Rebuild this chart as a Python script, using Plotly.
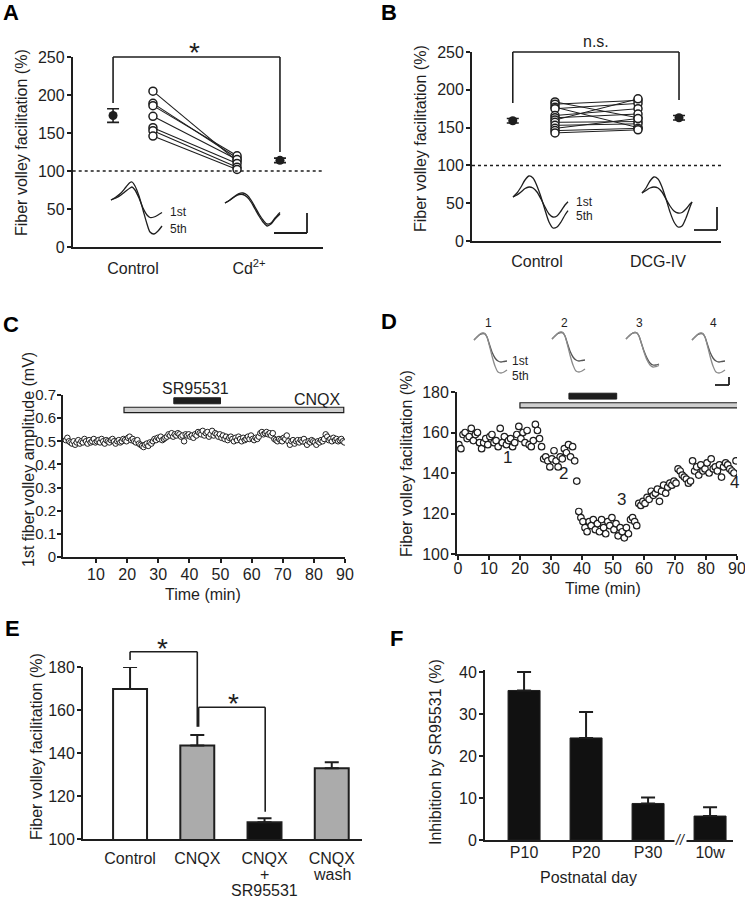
import plotly.graph_objects as go

W, H = 745, 899
FONT = "Liberation Sans, Arial, Helvetica, sans-serif"
INK = "#1e1e1e"

# ---------------- data ----------------
# Panel A
a_ctrl = [205, 189, 186, 172, 157, 153, 146]
a_cd = [113, 117, 120, 115, 110, 105, 102]
a_mean = [173, 114]
a_sem = [9, 3]
a_labels = ["Control", "Cd<sup>2+</sup>"]

# Panel B
b_ctrl = [184, 181, 177, 175, 166, 163, 160, 157, 153, 149, 146, 143]
b_dcg = [163, 186, 150, 182, 175, 168, 188, 158, 155, 162, 149, 147]
b_mean = [159, 163]
b_sem = [3, 3]
b_labels = ["Control", "DCG-IV"]

# Panel C : 1st fiber volley amplitude (uV), one sample every 30 s
c_amp_uV = [
    505, 515, 500, 495, 490, 500, 485, 495, 505, 490, 500, 495, 510, 500, 490, 505, 495, 500, 510, 495,
    500, 505, 495, 510, 500, 490, 505, 500, 495, 505, 510, 500, 490, 500, 505, 495, 500, 510, 505, 500,
    515, 520, 505, 510, 500, 495, 505, 490, 485, 480, 475, 485, 490, 480, 495, 490, 500, 510, 505, 515,
    510, 520, 505, 510, 515, 520, 530, 525, 535, 520, 530, 525, 535, 530, 520, 525, 500, 530, 525, 530,
    520, 525, 515, 530, 525, 540, 535, 530, 545, 525, 535, 540, 520, 530, 545, 525, 535, 530, 520, 530,
    515, 525, 510, 520, 505, 515, 520, 510, 500, 515, 505, 520, 510, 500, 515, 505, 510, 520, 510, 525,
    510, 505, 515, 510, 520, 535, 540, 530, 535, 540, 530, 535, 525, 535, 510, 505, 500, 510, 505, 500,
    515, 510, 525, 500, 485, 500, 505, 490, 500, 505, 495, 505, 500, 510, 495, 485, 500, 495, 505, 500,
    495, 485, 500, 495, 505, 500, 510, 530, 520, 505, 510, 500, 515, 505, 510, 500, 505, 510, 500, 495,
]
c_t_start, c_t_step = 0.3, 0.5
c_cnqx = [19, 89.6]
c_sr = [35, 50]

# Panel D : fiber volley facilitation (%), one sample every 40 s
d_fac = [
    154, 152, 159, 160, 157, 158, 162, 156, 159, 160, 155, 152, 155, 157, 154,
    158, 159, 155, 156, 153, 162, 155, 158, 154, 156, 157, 153, 155, 159, 163,
    157, 160, 155, 161, 154, 153, 156, 164, 161, 157, 153, 147, 148, 146, 143,
    147, 151, 146, 143, 148, 147, 152, 150, 154, 148, 153,
    146, 136, 121, 118, 116,
    113, 111, 116, 114, 117, 112, 115, 111, 117, 113, 110, 116, 114, 118, 112, 115, 109, 113, 111, 108, 113, 110,
    117, 118, 116, 114,
    125, 124, 126, 125,
    128, 127, 131, 129, 130, 132, 126, 131, 134, 130, 133, 135, 134, 136, 135,
    142, 141, 139, 138, 137, 135, 136,
    146, 141, 143, 139, 144, 141, 142, 145, 140, 147, 142, 143, 141, 144, 138, 143, 145, 144, 142, 141, 140, 146,
]
d_t_start, d_t_step = 0.3, 0.667
d_cnqx = [20, 90.3]
d_sr = [35.8, 51.2]
d_marks = ["1", "2", "3", "4"]
d_mark_t = [16.1, 34.0, 52.8, 89.1]
d_mark_v = [147.9, 139.9, 126.7, 135.2]

# Panel E
e_labels = ["Control", "CNQX", "CNQX", "CNQX"]
e_sublabels = [[], [], ["+", "SR95531"], ["wash"]]
e_values = [169.8, 143.5, 107.8, 132.9]
e_err = [10.2, 4.9, 1.8, 2.8]
e_colors = ["white", "#ababab", "#111111", "#ababab"]

# Panel F
f_labels = ["P10", "P20", "P30", "10w"]
f_values = [35.6, 24.3, 8.7, 5.7]
f_err = [4.4, 6.2, 1.4, 2.1]

# Example fiber-volley traces (sample index, amplitude in display units)
wa_t = [0, 5, 10, 15, 19, 21, 24, 28, 32, 36, 39, 43, 47, 51]
wa_1st = [0, 2, 5, 9, 12, 13, 10, 2, -8, -15, -17.5, -17, -15, -12.5]
wa_5th = [0, 3, 7, 13, 17.5, 18, 14, 4, -10, -24, -32, -34, -31, -26]
wcd_t = [0, 5, 10, 14, 18, 22, 26, 30, 34, 38, 42, 46, 50, 55]
wcd_1st = [0, 3, 7, 9.5, 10, 8, 3, -4, -11, -17, -21, -20, -15, -9.5]
wcd_5th = [0, 3, 6.5, 8.5, 8.5, 6, 1, -6, -13, -19, -23, -21, -16, -11]
wb_t = [0, 4, 8, 12, 16, 20, 24, 28, 32, 36, 40, 44, 48, 52, 55]
wb_1st = [0, 2, 5, 8.5, 10, 9, 5, -2, -10, -17, -20, -19, -14, -8, -4.7]
wb_5th = [0, 4, 10, 17, 21, 19, 11, 0, -13, -25, -31, -30, -25, -18, -13.7]
wdcg_t = [0, 4, 8, 12, 16, 20, 24, 28, 32, 36, 40, 44, 48, 50]
wdcg_1st = [0, 2.5, 5, 6, 5, 1, -6, -13, -18, -20, -19.5, -16, -11, -9]
wdcg_5th = [0, 5, 12, 16, 14, 6, -6, -19, -29, -34, -33, -25, -14, -9]
wd_t = [0, 3, 6, 9, 11, 13, 15, 18, 21, 24, 27, 30, 33]
wd_1st = [0, 3, 5.5, 6.5, 6, 3, -3, -12, -18, -21, -22, -21.5, -21]
wd_5th = [0, 3, 6, 7, 6.5, 3, -4, -16, -26, -32, -33, -32, -30]
wd3_1st = [0, 3, 5.5, 6.5, 6, 3, -3, -12, -19, -24, -26, -26, -25]
wd3_5th = [0, 3, 5.5, 6.5, 6, 3, -3, -13, -21, -26, -28, -27.5, -26.5]

# ---------------- helpers ----------------
def px(xp):
    return xp / W


def py(yp):
    return 1 - yp / H


fig = go.Figure()
layout_axes = {}
shapes = []
annotations = []

common = dict(showline=True, linecolor=INK, linewidth=1.8, ticks="outside", ticklen=4,
              tickwidth=1.6, tickcolor=INK, showgrid=False, zeroline=False, automargin=False,
              ticklabeloverflow="allow",
              tickfont=dict(family=FONT, size=16, color=INK), fixedrange=True)

RANGES = {}


def main_axes(i, xdom, ydom, xr, yr, xkw=None, ykw=None):
    xk = "xaxis" if i == 1 else f"xaxis{i}"
    yk = "yaxis" if i == 1 else f"yaxis{i}"
    xa = dict(common, domain=xdom, range=xr, anchor="y" if i == 1 else f"y{i}")
    ya = dict(common, domain=ydom, range=yr, anchor="x" if i == 1 else f"x{i}",
              ticklabelstandoff=-1)
    xa.update(xkw or {})
    ya.update(ykw or {})
    layout_axes[xk] = xa
    layout_axes[yk] = ya
    RANGES[i] = (xr, yr)


def xr_(i):
    return "x" if i == 1 else f"x{i}"


def yr_(i):
    return "y" if i == 1 else f"y{i}"


def xd(i, v):
    r = RANGES[i][0]
    return (v - r[0]) / (r[1] - r[0])


def yd(i, v):
    r = RANGES[i][1]
    return (v - r[0]) / (r[1] - r[0])


def bracket(i, x0, x1, ytop, yl, yr, width=1.6):
    xref, yref = xr_(i) + " domain", yr_(i) + " domain"
    line = dict(color=INK, width=width)
    shapes.append(dict(type="line", xref=xref, yref=yref, x0=xd(i, x0), x1=xd(i, x1),
                       y0=yd(i, ytop), y1=yd(i, ytop), line=line))
    shapes.append(dict(type="line", xref=xref, yref=yref, x0=xd(i, x0), x1=xd(i, x0),
                       y0=yd(i, yl), y1=yd(i, ytop), line=line))
    shapes.append(dict(type="line", xref=xref, yref=yref, x0=xd(i, x1), x1=xd(i, x1),
                       y0=yd(i, yr), y1=yd(i, ytop), line=line))


def label(i, text, x, y, size=16, yshift=0, xanchor="center"):
    annotations.append(dict(text=text, x=x, y=yd(i, y), xref=xr_(i), yref=yr_(i) + " domain",
                            showarrow=False, font=dict(family=FONT, size=size, color=INK),
                            yshift=yshift, xanchor=xanchor, yanchor="middle"))


def paper_text(text, xp, yp, size=16, angle=0, bold=False, color=INK, xanchor="center"):
    t = f"<b>{text}</b>" if bold else text
    annotations.append(dict(text=t, x=px(xp), y=py(yp), xref="paper", yref="paper",
                            showarrow=False, textangle=angle, xanchor=xanchor, yanchor="middle",
                            font=dict(family=FONT, size=size, color=color)))


def inset(i, ox, oy, t, series, colors, width=1.3):
    pad = 3
    vmin = min(min(s) for s in series)
    vmax = max(max(s) for s in series)
    xk, yk = f"xaxis{i}", f"yaxis{i}"
    layout_axes[xk] = dict(domain=[px(ox + min(t) - pad), px(ox + max(t) + pad)],
                           range=[min(t) - pad, max(t) + pad], visible=False,
                           anchor=f"y{i}", fixedrange=True, automargin=False)
    layout_axes[yk] = dict(domain=[py(oy - vmin + pad), py(oy - vmax - pad)],
                           range=[vmin - pad, vmax + pad], visible=False,
                           anchor=f"x{i}", fixedrange=True, automargin=False)
    for s, c in zip(series, colors):
        fig.add_trace(go.Scatter(x=t, y=s, mode="lines", xaxis=f"x{i}", yaxis=f"y{i}",
                                 line=dict(color=c, width=width, shape="spline", smoothing=0.8),
                                 hoverinfo="skip"))


def scale_bar(xh0, xh1, yh, yv0):
    line = dict(color=INK, width=1.8)
    shapes.append(dict(type="line", xref="paper", yref="paper", x0=px(xh0), x1=px(xh1),
                       y0=py(yh), y1=py(yh), line=line))
    shapes.append(dict(type="line", xref="paper", yref="paper", x0=px(xh1), x1=px(xh1),
                       y0=py(yv0), y1=py(yh), line=line))


# ---------------- Panel A ----------------
main_axes(1, [px(72.7), px(323)], [py(247), py(57)], [0.48, 2.638], [0, 250],
          xkw=dict(tickvals=[1, 2], ticktext=a_labels, ticks="", ticklabelstandoff=6),
          ykw=dict(tickvals=[0, 50, 100, 150, 200, 250]))
A_MEAN_X = [1 - 0.172, 2 + 0.267]
A_PAIR_X = [1 + 0.172, 2 - 0.103]
shapes.append(dict(type="line", xref="x domain", yref="y", x0=0, x1=1, y0=100, y1=100,
                   line=dict(color=INK, width=1.5, dash="3px,3px")))
for c, d in zip(a_ctrl, a_cd):
    fig.add_trace(go.Scatter(x=A_PAIR_X, y=[c, d], mode="lines+markers", xaxis="x", yaxis="y",
                             line=dict(color=INK, width=1.1),
                             marker=dict(symbol="circle", size=8, color="white",
                                         line=dict(color=INK, width=1.5)), hoverinfo="skip"))
fig.add_trace(go.Scatter(x=A_MEAN_X, y=a_mean, mode="markers", xaxis="x", yaxis="y",
                         marker=dict(symbol="circle", size=9, color=INK),
                         error_y=dict(type="data", array=a_sem, color=INK, thickness=1.6, width=6),
                         hoverinfo="skip"))
bracket(1, A_MEAN_X[0], A_MEAN_X[1], 250, 189.5, 125)
label(1, "*", 1.53, 263, size=28, yshift=-5)
inset(7, 111, 200, wa_t, [wa_1st, wa_5th], [INK, INK])
inset(8, 225, 203, wcd_t, [wcd_1st, wcd_5th], [INK, INK])
paper_text("1st", 168, 212, size=12, xanchor="left")
paper_text("5th", 168, 229, size=12, xanchor="left")
scale_bar(274, 307, 233, 213)

# ---------------- Panel B ----------------
main_axes(2, [px(472), px(721)], [py(241), py(52)], [0.463, 2.521], [0, 250],
          xkw=dict(tickvals=[1, 2], ticktext=b_labels, ticks="", ticklabelstandoff=5),
          ykw=dict(tickvals=[0, 50, 100, 150, 200, 250]))
B_MEAN_X = [1 - 0.20, 2 + 0.174]
B_PAIR_X = [1 + 0.149, 2 - 0.165]
shapes.append(dict(type="line", xref="x2 domain", yref="y2", x0=0, x1=1, y0=100, y1=100,
                   line=dict(color=INK, width=1.5, dash="3px,3px")))
for c, d in zip(b_ctrl, b_dcg):
    fig.add_trace(go.Scatter(x=B_PAIR_X, y=[c, d], mode="lines+markers", xaxis="x2", yaxis="y2",
                             line=dict(color=INK, width=1.0),
                             marker=dict(symbol="circle", size=8, color="white",
                                         line=dict(color=INK, width=1.5)), hoverinfo="skip"))
fig.add_trace(go.Scatter(x=B_MEAN_X, y=b_mean, mode="markers", xaxis="x2", yaxis="y2",
                         marker=dict(symbol="circle", size=9, color=INK),
                         error_y=dict(type="data", array=b_sem, color=INK, thickness=1.6, width=6),
                         hoverinfo="skip"))
bracket(2, B_MEAN_X[0], B_MEAN_X[1], 250, 182.5, 186.5)
label(2, "n.s.", 1.49, 264, size=16)
inset(9, 513, 197, wb_t, [wb_1st, wb_5th], [INK, INK])
inset(10, 642, 193, wdcg_t, [wdcg_1st, wdcg_5th], [INK, INK])
paper_text("1st", 574, 202, size=12, xanchor="left")
paper_text("5th", 574, 216, size=12, xanchor="left")
scale_bar(694, 717, 230, 207)

# ---------------- Panel C ----------------
main_axes(3, [px(63), px(345)], [py(557), py(395)], [-0.6, 90], [0, 0.7],
          xkw=dict(tickvals=[10, 20, 30, 40, 50, 60, 70, 80, 90], ticklabelstandoff=-2),
          ykw=dict(tickvals=[0, 0.1, 0.2, 0.3, 0.4, 0.5, 0.6, 0.7],
                   ticktext=["0", "0.1", "0.2", "0.3", "0.4", "0.5", "0.6", "0.7"],
                   ticklabelstandoff=-2, tickfont=dict(family=FONT, size=15, color=INK)))
c_t = [c_t_start + i * c_t_step for i in range(len(c_amp_uV))]
fig.add_trace(go.Scatter(x=c_t, y=[v / 1000 for v in c_amp_uV], mode="markers", xaxis="x3", yaxis="y3",
                         marker=dict(symbol="circle", size=5.5, color="white",
                                     line=dict(color=INK, width=1)), hoverinfo="skip"))
shapes.append(dict(type="rect", xref="x3", yref="y3", x0=c_cnqx[0], x1=c_cnqx[1], y0=0.624, y1=0.647,
                   fillcolor="#cfcfcf", line=dict(color=INK, width=1.2)))
shapes.append(dict(type="rect", xref="x3", yref="y3", x0=c_sr[0], x1=c_sr[1], y0=0.662, y1=0.688,
                   fillcolor=INK, line=dict(color=INK, width=1)))
label(3, "SR95531", 42, 0.728, size=16)
label(3, "CNQX", 89.5, 0.68, size=16, xanchor="right")

# ---------------- Panel D ----------------
main_axes(4, [px(457), px(737)], [py(554), py(392)], [-0.3, 90], [100, 180],
          xkw=dict(tickvals=[0, 10, 20, 30, 40, 50, 60, 70, 80, 90], ticklabelstandoff=-5),
          ykw=dict(tickvals=[100, 120, 140, 160, 180]))
d_t = [d_t_start + i * d_t_step for i in range(len(d_fac))]
fig.add_trace(go.Scatter(x=d_t, y=d_fac, mode="markers", xaxis="x4", yaxis="y4",
                         marker=dict(symbol="circle", size=6.5, color="white",
                                     line=dict(color=INK, width=1.2)), hoverinfo="skip"))
shapes.append(dict(type="rect", xref="x4", yref="y4", x0=d_cnqx[0], x1=d_cnqx[1], y0=172.2, y1=174.7,
                   fillcolor="#cfcfcf", line=dict(color=INK, width=1.2)))
shapes.append(dict(type="rect", xref="x4", yref="y4", x0=d_sr[0], x1=d_sr[1], y0=176.5, y1=179.4,
                   fillcolor=INK, line=dict(color=INK, width=1)))
for m, t, v in zip(d_marks, d_mark_t, d_mark_v):
    label(4, m, t, v, size=17)
inset(11, 474, 340, wd_t, [wd_1st, wd_5th], ["#555555", "#8a8a8a"])
inset(12, 552, 339, wd_t, [wd_1st, wd_5th], ["#555555", "#8a8a8a"])
inset(13, 626, 339, wd_t, [wd3_1st, wd3_5th], ["#555555", "#8a8a8a"])
inset(14, 692, 340, wd_t, [wd_1st, wd_5th], ["#555555", "#8a8a8a"])
for m, xp in zip(d_marks, [488, 564, 639, 713]):
    paper_text(m, xp, 323, size=12)
paper_text("1st", 510, 361, size=12, xanchor="left")
paper_text("5th", 510, 376, size=12, xanchor="left")
scale_bar(715, 729, 385, 377)

# ---------------- Panel E ----------------
main_axes(5, [px(83), px(362)], [py(839), py(667)], [-0.7, 3.45], [100, 180],
          xkw=dict(tickvals=[0, 1, 2, 3], ticktext=e_labels, ticks="", ticklabelstandoff=4),
          ykw=dict(tickvals=[100, 120, 140, 160, 180]))
fig.add_trace(go.Bar(x=[0, 1, 2, 3], y=e_values, width=0.505, xaxis="x5", yaxis="y5",
                     marker=dict(color=e_colors, line=dict(color=INK, width=2)),
                     error_y=dict(type="data", array=e_err, arrayminus=[0, 0, 0, 0], symmetric=False,
                                  color=INK, thickness=2, width=7), hoverinfo="skip"))
for k, subs in enumerate(e_sublabels):
    for j, s in enumerate(subs):
        annotations.append(dict(text=s, x=k, y=py(874 + 16 * j), xref="x5", yref="paper",
                                showarrow=False, xanchor="center", yanchor="middle",
                                font=dict(family=FONT, size=16, color=INK)))
bracket(5, 0, 1, 187.1, 183.3, 152.2)
bracket(5, 1.02, 2.01, 161.3, 152.2, 112.7)
label(5, "*", 0.48, 191, size=28, yshift=-5)
label(5, "*", 1.54, 165.4, size=28, yshift=-5)

# ---------------- Panel F ----------------
main_axes(6, [px(485), px(733)], [py(840), py(669.9)], [-0.63, 3.37], [0, 40.5],
          xkw=dict(tickvals=[0, 1, 2, 3], ticktext=f_labels, ticks="", ticklabelstandoff=-3),
          ykw=dict(tickvals=[0, 10, 20, 30, 40]))
fig.add_trace(go.Bar(x=[0, 1, 2, 3], y=f_values, width=0.516, xaxis="x6", yaxis="y6",
                     marker=dict(color="#111111", line=dict(color=INK, width=1)),
                     error_y=dict(type="data", array=f_err, arrayminus=[0, 0, 0, 0], symmetric=False,
                                  color=INK, thickness=2, width=7), hoverinfo="skip"))
annotations.append(dict(text="<i>//</i>", x=2.52, y=0, xref="x6", yref="y6 domain", showarrow=False,
                        xanchor="center", yanchor="middle",
                        font=dict(family=FONT, size=14, color=INK), bgcolor="white", borderpad=0))

# ---------------- axis titles and panel letters ----------------
YT = "Fiber volley facilitation (%)"
paper_text(YT, 22, 143, angle=-90)
paper_text(YT, 420, 139, angle=-90)
paper_text("1st fiber volley amplitude (mV)", 28, 460, angle=-90)
paper_text(YT, 406, 464, angle=-90)
paper_text(YT, 36, 747, angle=-90)
paper_text("Inhibition by SR95531 (%)", 435, 752, angle=-90)
paper_text("Time (min)", 203, 594)
paper_text("Time (min)", 603, 588)
paper_text("Postnatal day", 588, 877)

for letter, xp, yp in [("A", 11, 12), ("B", 389, 12), ("C", 11, 324), ("D", 389, 321),
                       ("E", 13, 628), ("F", 396, 638)]:
    paper_text(letter, xp, yp, size=22, bold=True, color="#000000")

fig.update_layout(width=W, height=H, margin=dict(l=0, r=0, t=0, b=0, pad=0, autoexpand=False),
                  paper_bgcolor="white", plot_bgcolor="rgba(0,0,0,0)", showlegend=False,
                  font=dict(family=FONT, size=16, color=INK),
                  shapes=shapes, annotations=annotations, **layout_axes)

fig.write_html("out.html", config={"displayModeBar": False},
               post_script="document.body.style.margin='0';document.body.style.overflow='hidden';")
